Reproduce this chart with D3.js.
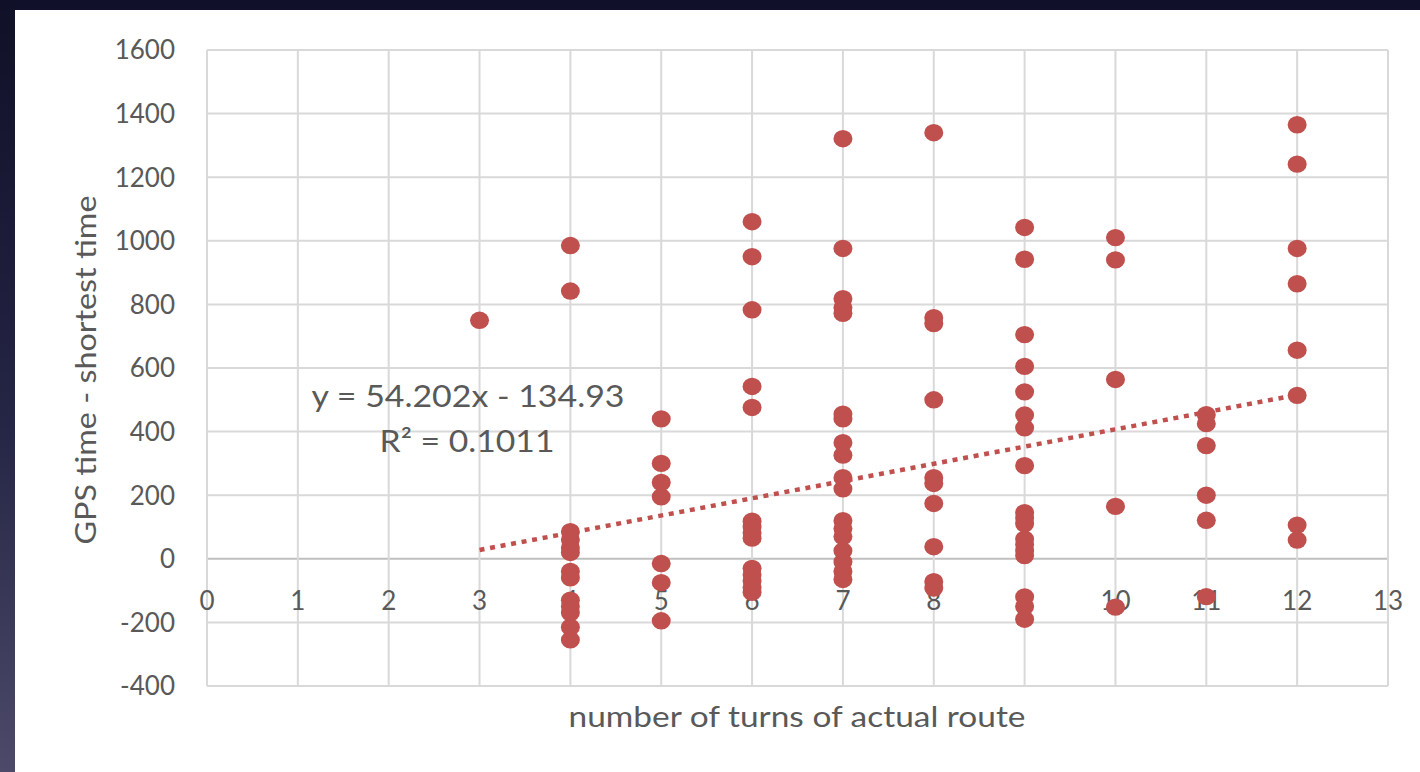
<!DOCTYPE html>
<html>
<head>
<meta charset="utf-8">
<script src="https://cdn.jsdelivr.net/npm/d3@7"></script>
<style>
  html, body { margin: 0; padding: 0; background: #12122c; }
  svg { display: block; }
  text { font-family: Lato, "Open Sans", sans-serif; fill: #595959; }
</style>
</head>
<body>
<svg id="chart" width="1420" height="772"></svg>
<script>
// Turns on the driven route vs. extra time the GPS route took
const turnCounts = [3, 4, 5, 6, 7, 8, 9, 10, 11, 12];
const timeDiffs = [
  [750],
  [985, 842, 85, 60, 35, 20, -40, -60, -130, -150, -170, -215, -255],
  [440, 300, 240, 195, -15, -75, -195],
  [1060, 950, 783, 542, 476, 118, 100, 82, 65, -30, -50, -70, -90, -105],
  [1321, 976, 818, 790, 772, 455, 440, 365, 326, 255, 220, 120, 95, 70, 25, -10, -40, -65],
  [1340, 758, 740, 500, 255, 237, 174, 38, -72, -92],
  [1042, 942, 705, 605, 525, 452, 412, 293, 145, 128, 110, 62, 45, 25, 10, -120, -150, -190],
  [1010, 940, 564, 165, -152],
  [453, 425, 356, 200, 121, -119],
  [1365, 1241, 976, 865, 656, 514, 106, 59]
];
const xTicks = d3.range(0, 14);
const yTicks = d3.range(-400, 1601, 200);
const trendSlope = 54.202;
const trendIntercept = -134.93;
const trendRange = [3, 12];
const equationLines = ["y = 54.202x - 134.93", "R² = 0.1011"];
const xTitle = "number of turns of actual route";
const yTitle = "GPS time - shortest time";

const points = turnCounts.flatMap((t, i) => timeDiffs[i].map(v => ({ x: t, y: v })));

const svg = d3.select("#chart");
const W = 1420, H = 772;

// dark slide backdrop
const defs = svg.append("defs");
const sideGrad = defs.append("linearGradient").attr("id", "side")
  .attr("x1", 0).attr("y1", 0).attr("x2", 0).attr("y2", 1);
sideGrad.append("stop").attr("offset", "0%").attr("stop-color", "#101028");
sideGrad.append("stop").attr("offset", "55%").attr("stop-color", "#252545");
sideGrad.append("stop").attr("offset", "100%").attr("stop-color", "#4c4a68");
svg.append("rect").attr("width", W).attr("height", H).attr("fill", "#10102a");
svg.append("rect").attr("x", 0).attr("y", 0).attr("width", 15).attr("height", H).attr("fill", "url(#side)");

// chart panel
svg.append("rect").attr("x", 15).attr("y", 10).attr("width", W - 15).attr("height", H - 10).attr("fill", "#ffffff");

const x = d3.scaleLinear().domain([0, 13]).range([207, 1388]);
const y = d3.scaleLinear().domain([-400, 1600]).range([686, 50]);

// gridlines
const grid = svg.append("g");
grid.selectAll("line.h").data(yTicks).join("line")
  .attr("x1", x(0)).attr("x2", x(13))
  .attr("y1", d => y(d)).attr("y2", d => y(d))
  .attr("stroke", d => d === 0 ? "#bfbfbf" : "#d9d9d9").attr("stroke-width", 2);
grid.selectAll("line.v").data(xTicks).join("line")
  .attr("y1", y(-400)).attr("y2", y(1600))
  .attr("x1", d => x(d)).attr("x2", d => x(d))
  .attr("stroke", "#d9d9d9").attr("stroke-width", 2);

// y tick labels
svg.append("g").selectAll("text").data(yTicks).join("text")
  .attr("x", 175).attr("y", d => y(d))
  .attr("dy", "0.36em")
  .attr("text-anchor", "end")
  .attr("font-size", 26)
  .text(d => d);

// x tick labels sit just under the zero line
svg.append("g").selectAll("text").data(xTicks).join("text")
  .attr("x", d => x(d)).attr("y", y(0) + 51)
  .attr("text-anchor", "middle")
  .attr("font-size", 26)
  .text(d => d);

// markers (slightly wide ellipses)
svg.append("g").selectAll("ellipse").data(points).join("ellipse")
  .attr("cx", d => x(d.x)).attr("cy", d => y(d.y))
  .attr("rx", 9.5).attr("ry", 8.7)
  .attr("fill", "#c0504d");

// linear trendline
const trend = trendRange.map(t => [t, trendSlope * t + trendIntercept]);
svg.append("path")
  .attr("d", d3.line().x(d => x(d[0])).y(d => y(d[1]))(trend))
  .attr("fill", "none")
  .attr("stroke", "#c0504d")
  .attr("stroke-width", 4.5)
  .attr("stroke-dasharray", "5 5.7");

// trendline equation
svg.append("text").attr("x", 468).attr("y", 407)
  .attr("text-anchor", "middle").attr("font-size", 30)
  .attr("textLength", 313).attr("lengthAdjust", "spacingAndGlyphs")
  .text(equationLines[0]);
svg.append("text").attr("x", 467).attr("y", 452)
  .attr("text-anchor", "middle").attr("font-size", 30)
  .attr("textLength", 175).attr("lengthAdjust", "spacingAndGlyphs")
  .text(equationLines[1]);

// axis titles
svg.append("text").attr("x", 797).attr("y", 727)
  .attr("text-anchor", "middle").attr("font-size", 28)
  .attr("textLength", 457).attr("lengthAdjust", "spacingAndGlyphs")
  .text(xTitle);
svg.append("text")
  .attr("transform", `translate(96,370) rotate(-90)`)
  .attr("text-anchor", "middle").attr("font-size", 28)
  .attr("textLength", 349).attr("lengthAdjust", "spacingAndGlyphs")
  .text(yTitle);
</script>
</body>
</html>
